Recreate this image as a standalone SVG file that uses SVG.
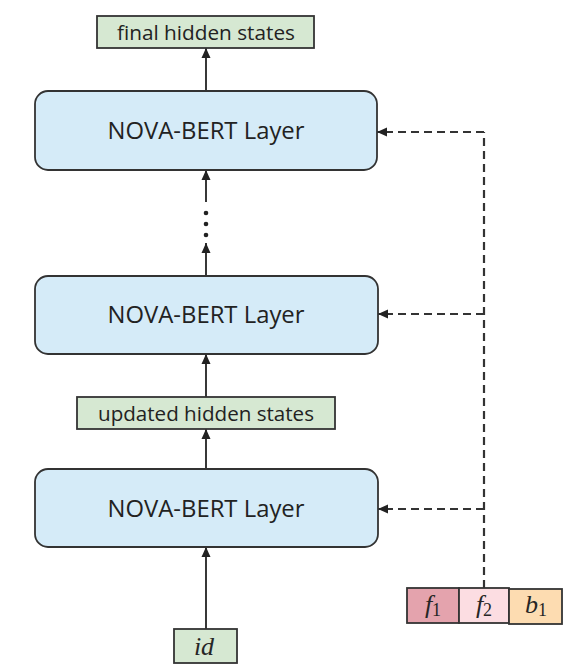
<svg xmlns="http://www.w3.org/2000/svg" width="572" height="672" viewBox="0 0 572 672">
<style>
.layer{fill:#d5ebf8;stroke:#333;stroke-width:1.8}
.green{fill:#d6e8d2;stroke:#333;stroke-width:1.8}
.lt{font-family:"Open Sans","Liberation Sans",sans-serif;font-size:23.5px;fill:#222;text-anchor:middle}
.gt{font-family:"Open Sans","Liberation Sans",sans-serif;font-size:20.5px;fill:#222;text-anchor:middle}
.mt{font-family:"Liberation Serif","DejaVu Serif",serif;font-style:italic;font-size:26px;fill:#262626;text-anchor:middle}
.sub{font-style:normal;font-size:18px}
.solid{stroke:#222;stroke-width:1.8;fill:none;marker-end:url(#ah)}
.dash{stroke:#333;stroke-width:2.2;fill:none;stroke-dasharray:8 5}
.dasharr{stroke:#333;stroke-width:2.2;fill:none;stroke-dasharray:8 5;marker-end:url(#ah)}
</style>
<defs>
<marker id="ah" viewBox="0 0 10 10" refX="10" refY="5" markerWidth="10" markerHeight="10" markerUnits="userSpaceOnUse" orient="auto">
<path d="M0,0.5 L10,5 L0,9.5 Z" fill="#222"/>
</marker>
</defs>
<rect width="572" height="672" fill="#fff"/>
<g id="connectors">
<line class="solid" x1="206" y1="91" x2="206" y2="48"/>
<line class="solid" x1="206" y1="202" x2="206" y2="170"/>
<line class="solid" x1="206" y1="276" x2="206" y2="243"/>
<circle cx="206" cy="213" r="2.3" fill="#222"/>
<circle cx="206" cy="224" r="2.3" fill="#222"/>
<circle cx="206" cy="235" r="2.3" fill="#222"/>
<line class="solid" x1="206" y1="397" x2="206" y2="354"/>
<line class="solid" x1="206" y1="469" x2="206" y2="429"/>
<line class="solid" x1="206" y1="629" x2="206" y2="547"/>
<line class="dash" x1="484" y1="588" x2="484" y2="132"/>
<line class="dasharr" x1="484" y1="132" x2="377" y2="132"/>
<line class="dasharr" x1="484" y1="314" x2="378" y2="314"/>
<line class="dasharr" x1="484" y1="509" x2="378" y2="509"/>
</g>
<g id="final">
<rect class="green" x="97" y="16" width="217" height="32"/>
<text class="gt" x="206" y="40" textLength="178" lengthAdjust="spacingAndGlyphs">final hidden states</text>
</g>
<g id="layer1">
<rect class="layer" x="35" y="91" width="342" height="79" rx="13"/>
<text class="lt" x="206" y="139" textLength="197" lengthAdjust="spacingAndGlyphs">NOVA-BERT Layer</text>
</g>
<g id="layer2">
<rect class="layer" x="35" y="276" width="343" height="78" rx="13"/>
<text class="lt" x="206" y="323" textLength="197" lengthAdjust="spacingAndGlyphs">NOVA-BERT Layer</text>
</g>
<g id="updated">
<rect class="green" x="77" y="397" width="258" height="32"/>
<text class="gt" x="206" y="421" textLength="216" lengthAdjust="spacingAndGlyphs">updated hidden states</text>
</g>
<g id="layer3">
<rect class="layer" x="35" y="469" width="343" height="78" rx="13"/>
<text class="lt" x="206" y="517" textLength="197" lengthAdjust="spacingAndGlyphs">NOVA-BERT Layer</text>
</g>
<g id="id">
<rect class="green" x="174" y="629" width="63" height="34"/>
<text class="mt" x="204" y="655">id</text>
</g>
<g id="features">
<rect x="407" y="588" width="52" height="35" fill="#e4a3ad" stroke="#333" stroke-width="1.8"/>
<rect x="459" y="588" width="50" height="35" fill="#fcdde2" stroke="#333" stroke-width="1.8"/>
<rect x="509" y="589" width="53" height="35" fill="#fddcb1" stroke="#333" stroke-width="1.8"/>
<text class="mt" x="433" y="613">f<tspan class="sub" dy="3">1</tspan></text>
<text class="mt" x="484" y="613">f<tspan class="sub" dy="3">2</tspan></text>
<text class="mt" x="536" y="613">b<tspan class="sub" dy="3">1</tspan></text>
</g>
</svg>
